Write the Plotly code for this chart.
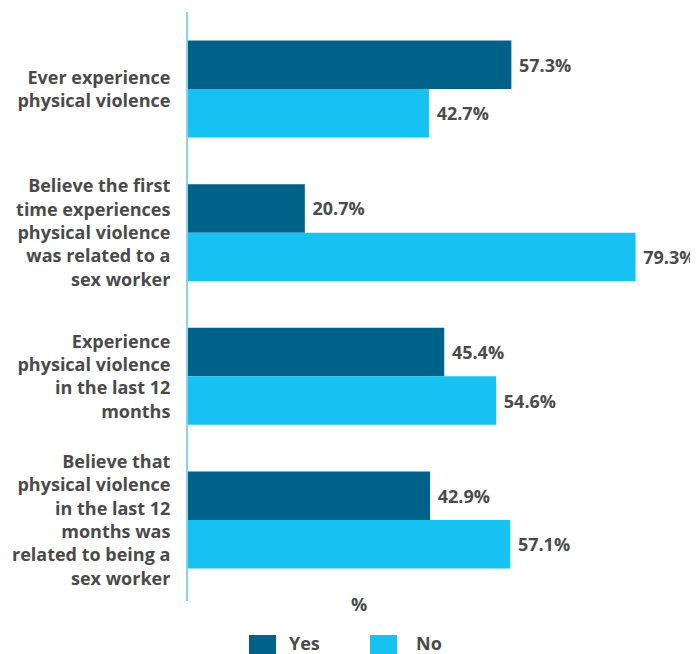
import plotly.graph_objects as go

categories = [
    "Ever experience<br>physical violence",
    "Believe the first<br>time experiences<br>physical violence<br>was related to a<br>sex worker",
    "Experience<br>physical violence<br>in the last 12<br>months",
    "Believe that<br>physical violence<br>in the last 12<br>months was<br>related to being a<br>sex worker",
]
yes_values = [57.3, 20.7, 45.4, 42.9]
no_values = [42.7, 79.3, 54.6, 57.1]
series_names = ["Yes", "No"]
colors = ["#006289", "#17c1f2"]

# page has an 8px body margin, so the figure is 8px smaller than the window
OFF = 8
W, H = 690, 646
L, R, T, B = 180, 10, 4, 53
pw, ph = W - L - R, H - T - B

def px_x(p):  # page pixel -> paper
    return (p - OFF - L) / pw

def px_y(p):
    return (H - B - (p - OFF)) / ph

font_family = "Open Sans, Noto Sans, sans-serif"
txt_color = "#4a4a4a"
FS = 18

fig = go.Figure()
for name, vals, col in zip(series_names, [yes_values, no_values], colors):
    fig.add_trace(go.Bar(
        y=categories, x=vals, name=name, orientation="h",
        marker=dict(color=col, line=dict(width=0)),
        texttemplate="\u00a0%{x}%", textposition="outside",
        textfont=dict(family=font_family, size=FS, color=txt_color, weight="bold"),
        constraintext="none", cliponaxis=False, showlegend=False,
    ))

fig.update_layout(
    width=W, height=H,
    margin=dict(l=L, r=R, t=T, b=B, autoexpand=False),
    paper_bgcolor="white", plot_bgcolor="white",
    barmode="group", bargap=0.325, bargroupgap=0,
    font=dict(family=font_family, color=txt_color),
    xaxis=dict(range=[0, 88.6], showgrid=False, zeroline=False,
               showticklabels=False, showline=False, ticks=""),
    yaxis=dict(range=[3.564, -0.536], showgrid=False, zeroline=False,
               showline=True, linecolor="#86d3f0", linewidth=2, ticks="",
               ticklabelstandoff=12,
               tickfont=dict(family=font_family, size=FS, color=txt_color, weight="bold")),
)

# axis title "%"
fig.add_annotation(x=px_x(359), y=px_y(604), xref="paper", yref="paper",
                   text="%", showarrow=False, xanchor="center", yanchor="middle",
                   font=dict(family=font_family, size=FS, color=txt_color, weight="bold"))

# custom legend
legend_items = [(249, 287), (370, 414)]
for (sx, tx), name, col in zip(legend_items, series_names, colors):
    fig.add_shape(type="rect", xref="paper", yref="paper",
                  x0=px_x(sx), x1=px_x(sx + 27), y0=px_y(635), y1=px_y(662),
                  fillcolor=col, line=dict(width=0))
    fig.add_annotation(x=px_x(tx), y=px_y(643), xref="paper", yref="paper",
                       text=name, showarrow=False, xanchor="left", yanchor="middle",
                       font=dict(family=font_family, size=FS, color=txt_color, weight="bold"))

fig.write_html("out.html")
